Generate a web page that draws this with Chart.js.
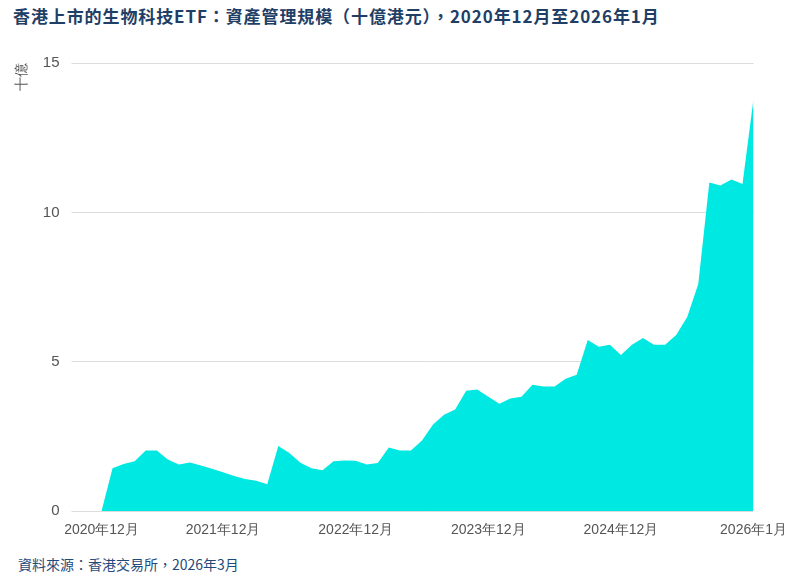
<!doctype html>
<html lang="zh-Hant">
<head>
  <meta charset="utf-8">
  <title>香港上市的生物科技ETF</title>
  <script src="https://cdn.jsdelivr.net/npm/chart.js"></script>
  <style>
    body { margin: 0; width: 800px; height: 583px; background: #fff; position: relative;
      font-family: "Noto Sans CJK TC", "Noto Sans", sans-serif; }
    h1 { position: absolute; left: 13px; top: 3px; margin: 0; font-size: 17px; letter-spacing: 0.9px; font-weight: bold; color: #1f3f66; }
    .src { position: absolute; left: 18px; top: 554px; font-size: 14px; color: #1f4a7a; }
    .wrap { position: absolute; left: 10px; top: 42px; width: 780px; height: 500px; }
  </style>
</head>
<body>
  <h1>香港上市的生物科技ETF：資產管理規模（十億港元），2020年12月至2026年1月</h1>
  <div class="wrap"><canvas id="aumChart"></canvas></div>
  <div class="src">資料來源：香港交易所，2026年3月</div>
<script>
// 資產管理規模（十億港元），按月
const aum = [0, 1.44, 1.58, 1.67, 2.03, 2.03, 1.73, 1.56, 1.63, 1.53, 1.42, 1.3, 1.18, 1.08, 1.02, 0.9,
  2.18, 1.95, 1.62, 1.44, 1.37, 1.67, 1.7, 1.69, 1.56, 1.61, 2.13, 2.03, 2.03, 2.37,
  2.9, 3.23, 3.4, 4.03, 4.07, 3.83, 3.6, 3.77, 3.83, 4.23, 4.17, 4.17, 4.43, 4.57, 5.73,
  5.5, 5.57, 5.23, 5.57, 5.8, 5.57, 5.57, 5.9, 6.5, 7.6, 11.0, 10.9, 11.1, 10.95, 13.8];
const months = aum.map(function(v, i) { return 'm' + i; });
const tickLabels = { 0: '2020年12月', 11: '2021年12月', 23: '2022年12月', 35: '2023年12月', 47: '2024年12月', 59: '2026年1月' };

new Chart(document.getElementById('aumChart'), {
  type: 'line',
  data: {
    labels: months,
    datasets: [{
      data: aum,
      fill: 'origin',
      backgroundColor: '#00e8e2',
      borderWidth: 0,
      pointRadius: 0,
      tension: 0
    }]
  },
  options: {
    responsive: true,
    maintainAspectRatio: false,
    animation: false,
    layout: { padding: { right: 26, top: 10 } },
    plugins: { legend: { display: false }, tooltip: { enabled: false } },
    scales: {
      x: {
        grid: { display: false },
        border: { display: false },
        ticks: {
          autoSkip: false, maxRotation: 0, color: '#555', font: { size: 14 },
          callback: function(v, i) { return tickLabels[i] || ''; }
        }
      },
      y: {
        min: 0, max: 15,
        border: { display: false },
        grid: { color: '#dcdcdc', drawTicks: true, tickLength: 30 },
        title: { display: true, text: '十億', align: 'end', color: '#555', font: { size: 14 }, padding: { bottom: 0 } },
        ticks: { stepSize: 5, color: '#555', font: { size: 15 }, padding: 12 }
      }
    }
  }
});
</script>
</body>
</html>
